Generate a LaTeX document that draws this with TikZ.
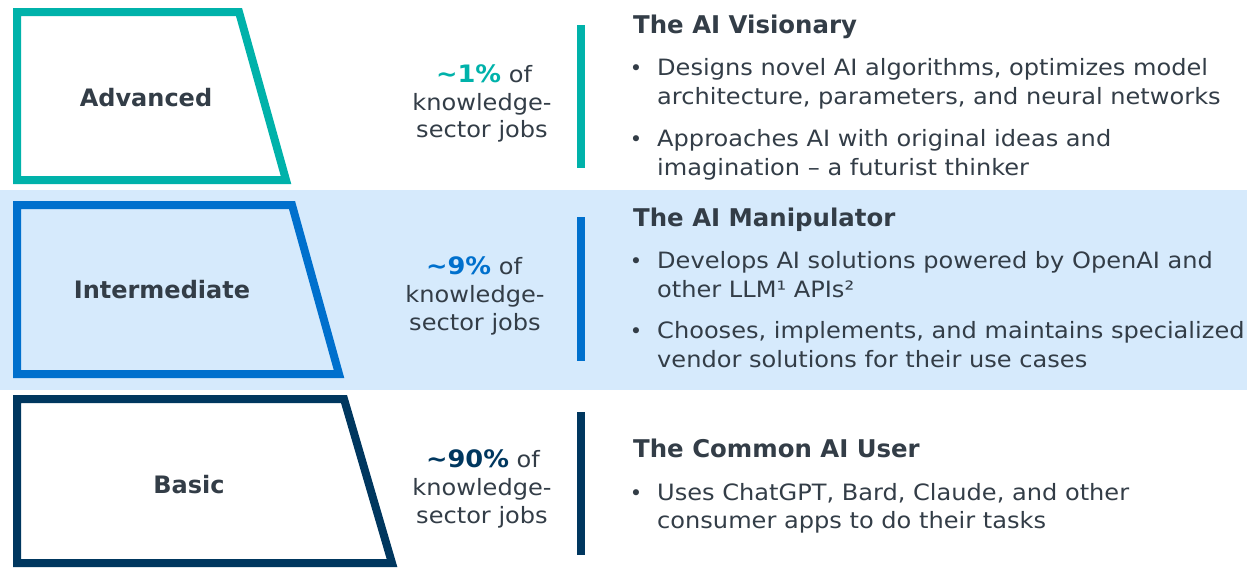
\documentclass[tikz,border=0pt]{standalone}
\usepackage{fontspec}
\setmainfont{DejaVu Sans}
\newfontfamily\bodyfont{DejaVu Sans}[FakeStretch=1.07]
\definecolor{tealc}{HTML}{00B2AA}
\definecolor{bluec}{HTML}{0070CD}
\definecolor{navyc}{HTML}{00375F}
\definecolor{bandc}{HTML}{D6EAFC}
\definecolor{txtc}{HTML}{333D47}
\newcommand{\pct}[2]{{\fontsize{24}{28}\selectfont\bfseries\color{#1}\textasciitilde#2\%}}
\tikzset{
  trap/.style={line width=8pt, line join=miter},
  lvl/.style={font=\fontsize{24}{28}\selectfont\bfseries, text=txtc, inner sep=0pt, anchor=base},
  mid/.style={font=\bodyfont\fontsize{22.5}{26}\selectfont, text=txtc, inner sep=0pt, anchor=base},
  head/.style={font=\fontsize{24.4}{28}\selectfont\bfseries, text=txtc, inner sep=0pt, anchor=base west},
  body/.style={font=\bodyfont\fontsize{22.5}{26}\selectfont, text=txtc, inner sep=0pt, anchor=base west},
  bul/.style={font=\fontsize{21}{24}\selectfont, text=txtc, inner sep=0pt, anchor=base},
  bar/.style={line width=8pt}
}
\begin{document}
\begin{tikzpicture}[x=1pt,y=-1pt]
\useasboundingbox (0,0) rectangle (1247,568);
% band
\fill[bandc] (0,190) rectangle (1247,390);
% trapezoids
\draw[trap, tealc] (17,12) -- (239,12) -- (286,180) -- (17,180) -- cycle;
\draw[trap, bluec] (17,205) -- (292,205) -- (339,374) -- (17,374) -- cycle;
\draw[trap, navyc] (17,399) -- (344,399) -- (392,563) -- (17,563) -- cycle;
\node[lvl] (advL) at (146,106) {Advanced};
\node[lvl] (intL) at (162,298) {Intermediate};
\node[lvl] (basL) at (189,493) {Basic};
% middle text
\node[mid] (adv1) at (484,82) {\pct{tealc}{1} of};
\node[mid] (adv2) at (482,110) {knowledge-};
\node[mid] (adv3) at (482,137) {sector jobs};
\node[mid] (int1) at (474,274) {\pct{bluec}{9} of};
\node[mid] (int2) at (475,302) {knowledge-};
\node[mid] (int3) at (475,330) {sector jobs};
\node[mid] (bas1) at (483,467) {\pct{navyc}{90} of};
\node[mid] (bas2) at (482,495) {knowledge-};
\node[mid] (bas3) at (482,523) {sector jobs};
% bars
\draw[bar, tealc] (581,25) -- (581,168);
\draw[bar, bluec] (581,217) -- (581,361);
\draw[bar, navyc] (581,412) -- (581,555);
% right texts
\node[head] (advH) at (633,33) {The AI Visionary};
\node[bul] (advB1) at (636,75) {•};
\node[body] (advT1) at (657,75) {Designs novel AI algorithms, optimizes model};
\node[body] (advT2) at (657,104) {architecture, parameters, and neural networks};
\node[bul] (advB2) at (636,146) {•};
\node[body] (advT3) at (657,146) {Approaches AI with original ideas and};
\node[body] (advT4) at (657,175) {imagination – a futurist thinker};
\node[head] (intH) at (633,226) {The AI Manipulator};
\node[bul] (intB1) at (636,268) {•};
\node[body] (intT1) at (657,268) {Develops AI solutions powered by OpenAI and};
\node[body] (intT2) at (657,297) {other LLM¹ APIs²};
\node[bul] (intB2) at (636,338) {•};
\node[body] (intT3) at (657,338) {Chooses, implements, and maintains specialized};
\node[body] (intT4) at (657,367) {vendor solutions for their use cases};
\node[head] (basH) at (633,457) {The Common AI User};
\node[bul] (basB1) at (636,500) {•};
\node[body] (basT1) at (657,500) {Uses ChatGPT, Bard, Claude, and other};
\node[body] (basT2) at (657,528) {consumer apps to do their tasks};
\end{tikzpicture}
\end{document}
